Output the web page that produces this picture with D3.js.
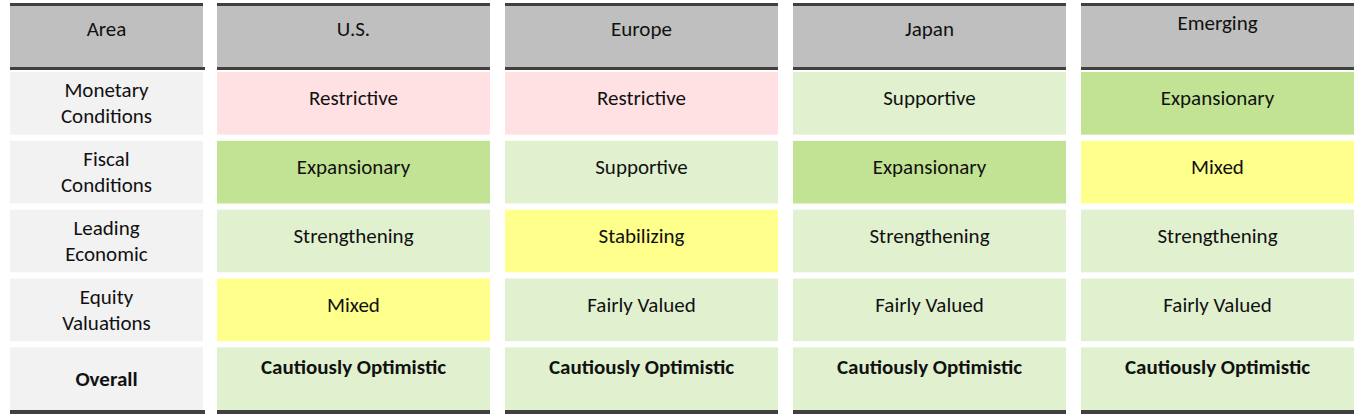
<!DOCTYPE html>
<html><head><meta charset="utf-8">
<script src="https://cdn.jsdelivr.net/npm/d3@7"></script>
<style>body{margin:0;background:#fff}svg{display:block}</style>
</head><body>
<svg id="chart" width="1369" height="418"></svg>
<script>
const regions = ['U.S.', 'Europe', 'Japan', 'Emerging'];
const factors = ['Monetary\nConditions', 'Fiscal\nConditions', 'Leading\nEconomic', 'Equity\nValuations', 'Overall'];
const usValues = ['Restrictive', 'Expansionary', 'Strengthening', 'Mixed', 'Cautiously Optimistic'];
const europeValues = ['Restrictive', 'Supportive', 'Stabilizing', 'Fairly Valued', 'Cautiously Optimistic'];
const japanValues = ['Supportive', 'Expansionary', 'Strengthening', 'Fairly Valued', 'Cautiously Optimistic'];
const emergingValues = ['Expansionary', 'Mixed', 'Strengthening', 'Fairly Valued', 'Cautiously Optimistic'];

const fillFor = {
    'Restrictive': '#ffe1e3',
    'Supportive': '#e1f1cf',
    'Expansionary': '#c1e393',
    'Mixed': '#ffff8b',
    'Stabilizing': '#ffff8b',
    'Strengthening': '#e1f1cf',
    'Fairly Valued': '#e1f1cf',
    'Cautiously Optimistic': '#e1f1cf'
};

const svg = d3.select('#chart');
const font = 'Calibri, Carlito, "Open Sans", sans-serif';

const x = d3.scaleBand().domain(regions).range([217, 1354]).paddingInner(15 / 288);
const y = d3.scaleBand().domain(factors).range([72, 410]).paddingInner(0.09);
const labelX = 10, labelW = 193;
const headTop = 5, headBottom = 67;

const columns = [
    { name: 'Area', x0: labelX, w: labelW },
    ...regions.map(r => ({ name: r, x0: x(r), w: x.bandwidth() }))
];

// Header
columns.forEach((c, i) => {
    svg.append('rect').attr('x', c.x0).attr('y', headTop).attr('width', c.w)
        .attr('height', headBottom - headTop).attr('fill', '#bfbfbf');
    svg.append('rect').attr('x', c.x0).attr('y', headTop - 2).attr('width', c.w)
        .attr('height', 3).attr('fill', '#404040');
    svg.append('rect').attr('x', c.x0).attr('y', headBottom).attr('width', c.w + (i === 0 ? 2 : 0))
        .attr('height', 3).attr('fill', '#404040');
    svg.append('rect').attr('x', c.x0).attr('y', 410).attr('width', c.w + (i === 0 ? 2 : 0))
        .attr('height', 4).attr('fill', '#404040');
    svg.append('text').attr('x', c.x0 + c.w / 2).attr('y', c.name === 'Emerging' ? 30 : 36)
        .attr('text-anchor', 'middle').attr('font-family', font).attr('font-size', 21)
        .attr('fill', '#111').text(c.name);
});

// Row labels
factors.forEach(f => {
    svg.append('rect').attr('x', labelX).attr('y', y(f)).attr('width', labelW)
        .attr('height', y.bandwidth()).attr('fill', '#f2f2f2');
    const lines = f.split('\n');
    const t = svg.append('text').attr('text-anchor', 'middle').attr('font-family', font)
        .attr('font-size', 21).attr('fill', '#111')
        .attr('font-weight', f === 'Overall' ? 'bold' : 'normal');
    const cy = y(f) + y.bandwidth() / 2;
    lines.forEach((l, k) => {
        t.append('tspan').attr('x', labelX + labelW / 2)
            .attr('y', cy + 7 + (k - (lines.length - 1) / 2) * 26).text(l);
    });
});

// Cells
const table = [usValues, europeValues, japanValues, emergingValues];
regions.forEach((r, i) => {
    const g = svg.append('g');
    g.selectAll('rect').data(table[i]).enter().append('rect')
        .attr('x', x(r)).attr('y', (d, j) => y(factors[j]))
        .attr('width', x.bandwidth()).attr('height', y.bandwidth())
        .attr('fill', d => fillFor[d]);
    g.selectAll('text').data(table[i]).enter().append('text')
        .attr('x', x(r) + x.bandwidth() / 2)
        .attr('y', (d, j) => y(factors[j]) + y.bandwidth() / 2 + (j === 4 ? -5 : 2))
        .attr('text-anchor', 'middle').attr('font-family', font).attr('font-size', 21)
        .attr('fill', '#111').attr('font-weight', (d, j) => j === 4 ? 'bold' : 'normal')
        .text(d => d);
});
</script>
</body></html>
